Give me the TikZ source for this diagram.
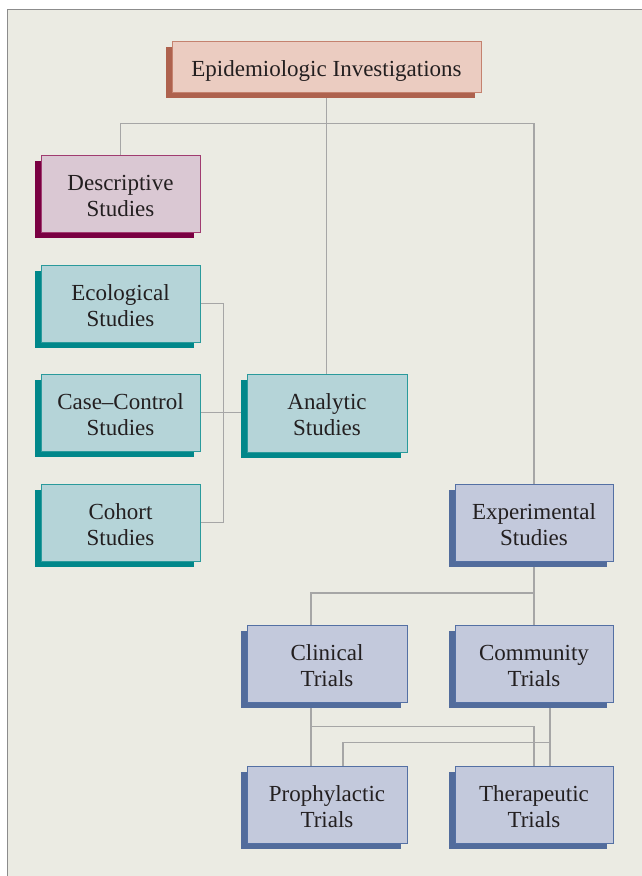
\documentclass[tikz,border=0pt]{standalone}
\usepackage{fontspec}
\setmainfont{Liberation Serif}
\usetikzlibrary{shadows}
\pgfdeclarelayer{background}
\pgfsetlayers{background,main}
\definecolor{bgc}{HTML}{EBEBE3}
\definecolor{framec}{HTML}{8C8C8C}
\definecolor{linec}{HTML}{A6A6A6}
\definecolor{txt}{HTML}{231F20}
\definecolor{epifill}{HTML}{EBCCC1}
\definecolor{epidraw}{HTML}{C4826F}
\definecolor{epish}{HTML}{AE624E}
\definecolor{descfill}{HTML}{DAC8D3}
\definecolor{descdraw}{HTML}{A03C70}
\definecolor{descsh}{HTML}{7A0042}
\definecolor{tealfill}{HTML}{B5D4D8}
\definecolor{tealdraw}{HTML}{2A9A9C}
\definecolor{tealsh}{HTML}{00878A}
\definecolor{bluefill}{HTML}{C3C9DC}
\definecolor{bluedraw}{HTML}{5470A4}
\definecolor{bluesh}{HTML}{526C9C}
\newcommand{\twol}[2]{\raisebox{-4.5pt}[\height][\depth]{\begin{tabular}{@{}c@{}}#1\\#2\end{tabular}}}
\newcommand{\onel}[1]{\raisebox{-4pt}[\height][\depth]{#1}}
\tikzset{
  x=1pt, y=-1pt,
  box/.style={rectangle, minimum width=159pt, minimum height=77pt, inner sep=0pt,
    line width=1pt, text=txt,
    font=\fontsize{23}{26}\selectfont},
  epibox/.style={box, minimum width=309pt, minimum height=51pt, fill=epifill, draw=epidraw,
    general shadow={fill=epish, shadow xshift=-6pt, shadow yshift=-6pt}},
  descbox/.style={box, fill=descfill, draw=descdraw,
    general shadow={fill=descsh, shadow xshift=-6pt, shadow yshift=-6pt}},
  tealbox/.style={box, fill=tealfill, draw=tealdraw,
    general shadow={fill=tealsh, shadow xshift=-6pt, shadow yshift=-6pt}},
  bluebox/.style={box, fill=bluefill, draw=bluedraw,
    general shadow={fill=bluesh, shadow xshift=-6pt, shadow yshift=-6pt}},
  conn/.style={draw=linec, line width=1.3pt},
}
\begin{document}
\begin{tikzpicture}
\useasboundingbox (0,0) rectangle (642,876);
\begin{pgfonlayer}{background}
\fill[white] (0,0) rectangle (642,876);
\fill[bgc] (7.5,9.5) rectangle (660,900);
\draw[framec, line width=1.2pt] (7.5,900) -- (7.5,9.5) -- (660,9.5);
\end{pgfonlayer}

\node[epibox] (epi) at (326.5,66.5) {\onel{Epidemiologic Investigations}};
\node[descbox] (desc) at (120.5,193.5) {\twol{Descriptive}{Studies}};
\node[tealbox] (eco) at (120.5,303.5) {\twol{Ecological}{Studies}};
\node[tealbox] (cc) at (120.5,412.5) {\twol{Case--Control}{Studies}};
\node[tealbox] (coh) at (120.5,522.5) {\twol{Cohort}{Studies}};
\node[tealbox, minimum width=160pt, minimum height=78pt] (ana) at (327,413) {\twol{Analytic}{Studies}};
\node[bluebox, minimum width=158pt] (exp) at (534,522.5) {\twol{Experimental}{Studies}};
\node[bluebox, minimum width=160pt] (cli) at (327,663.5) {\twol{Clinical}{Trials}};
\node[bluebox, minimum width=158pt] (com) at (534,663.5) {\twol{Community}{Trials}};
\node[bluebox, minimum width=160pt] (pro) at (327,804.5) {\twol{Prophylactic}{Trials}};
\node[bluebox, minimum width=158pt] (the) at (534,804.5) {\twol{Therapeutic}{Trials}};

\coordinate (j1) at (534,593);
\begin{pgfonlayer}{background}
\draw[conn] (epi.south) -- (epi.south |- ana.north);
\draw[conn] (desc.north) -- ++(0,-31) -| (exp.north);
\draw[conn] (eco.east) -- ++(23,0) |- (coh.east);
\draw[conn] (cc.east) -- (cc.east -| ana.west);
\draw[conn] (exp.south) -- (com.north);
\draw[conn] (j1) -| ([xshift=-16pt]cli.north);
\draw[conn] ([xshift=-16pt]cli.south) -- ([xshift=-16pt]pro.north);
\draw[conn] ([xshift=-16pt]cli.south) ++(0,24) -| (the.north);
\draw[conn] ([xshift=16pt]com.south) -- ([xshift=16pt]the.north);
\draw[conn] ([xshift=16pt]com.south) ++(0,40) -| ([xshift=16pt]pro.north);
\end{pgfonlayer}
\end{tikzpicture}
\end{document}
